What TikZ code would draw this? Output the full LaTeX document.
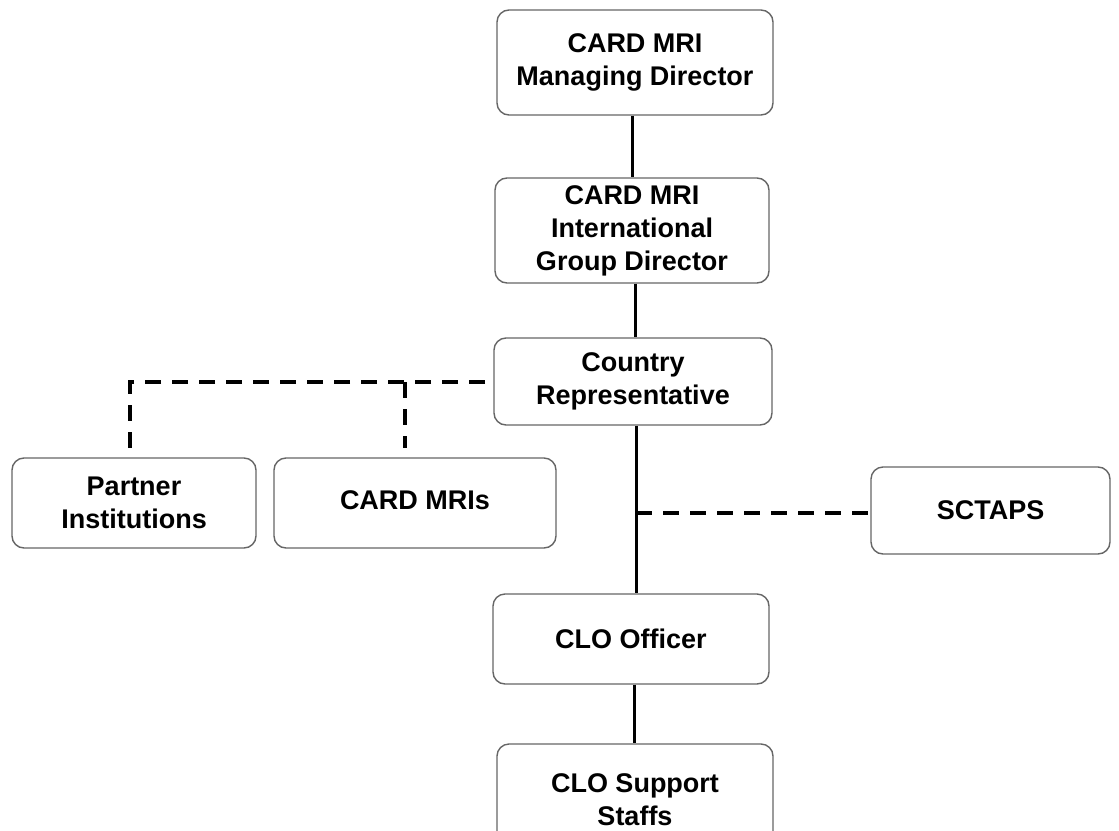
\documentclass[tikz,border=0pt]{standalone}
\usepackage{fontspec}
\setmainfont{Liberation Sans}
\tikzset{
  orgbox/.style={draw=black!60, line width=1.4pt, rounded corners=12pt, fill=white,
    align=center, inner sep=2pt, font=\fontsize{27}{33}\selectfont\bfseries},
  solidlink/.style={draw=black, line width=3pt},
  dashlink/.style={draw=black, line width=3.3pt, dash pattern=on 16pt off 11pt}
}
\begin{document}
\begin{tikzpicture}[x=1pt,y=-1pt]
\useasboundingbox (0,0) rectangle (1119,830);
\begin{scope}
\clip (0,0) rectangle (1119,830);
\node[orgbox, minimum width=276pt, minimum height=105pt] (md) at (635,62.5) {CARD MRI\\Managing Director};
\node[orgbox, minimum width=274pt, minimum height=105pt] (igd) at (632,230.5) {CARD MRI\\International\\Group Director};
\node[orgbox, minimum width=278pt, minimum height=87pt] (cr) at (633,381.5) {Country\\Representative};
\node[orgbox, minimum width=244pt, minimum height=90pt] (pi) at (134,503) {Partner\\Institutions};
\node[orgbox, minimum width=282pt, minimum height=90pt] (cm) at (415,503) {\raisebox{5pt}{CARD MRIs}};
\node[orgbox, minimum width=239pt, minimum height=87pt] (sc) at (990.5,510.5) {SCTAPS};
\node[orgbox, minimum width=276pt, minimum height=90pt] (clo) at (631,639) {CLO Officer};
\node[orgbox, minimum width=276pt, minimum height=112pt] (sup) at (635,800) {CLO Support\\Staffs};
\end{scope}

\coordinate (x1) at (632,0);
\coordinate (x2) at (635,0);
\coordinate (x3) at (636,0);
\coordinate (x4) at (634,0);
\coordinate (jn) at (636,513);
\coordinate (crl) at (485,382);
\coordinate (lc) at (130,382);
\coordinate (pit) at (130,448);
\coordinate (mc) at (405,382);
\coordinate (cmt) at (405,448);

\draw[solidlink] (x1 |- md.south) -- (x1 |- igd.north);
\draw[solidlink] (x2 |- igd.south) -- (x2 |- cr.north);
\draw[solidlink] (x3 |- cr.south) -- (x3 |- clo.north);
\draw[solidlink] (x4 |- clo.south) -- (x4 |- sup.north);
\draw[dashlink] (jn) -- (sc.west |- jn);
\draw[dashlink] (crl) -- (lc) -- (pit);
\draw[dashlink] (mc) -- (cmt);
\end{tikzpicture}
\end{document}
